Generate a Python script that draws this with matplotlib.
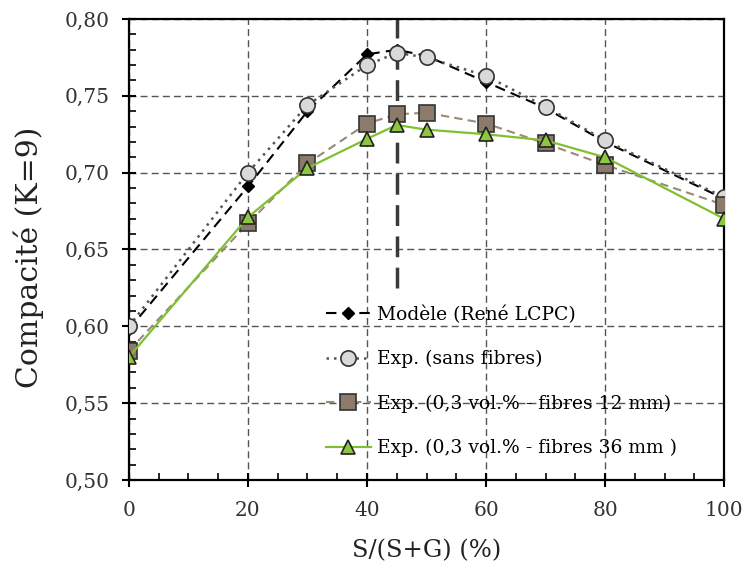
import matplotlib.pyplot as plt
from matplotlib.ticker import MultipleLocator, FuncFormatter

# S/(S+G) in %
x = [0, 20, 30, 40, 45, 50, 60, 70, 80, 100]

modele = [0.598, 0.691, 0.740, 0.777, 0.780, 0.776, 0.759, 0.742, 0.720, 0.683]
sans_fibres = [0.600, 0.700, 0.744, 0.770, 0.778, 0.775, 0.763, 0.743, 0.721, 0.684]
fibres_12 = [0.584, 0.667, 0.706, 0.732, 0.738, 0.739, 0.732, 0.719, 0.705, 0.679]
fibres_36 = [0.580, 0.671, 0.703, 0.722, 0.731, 0.728, 0.725, 0.721, 0.710, 0.670]

labels = ["Modèle (René LCPC)", "Exp. (sans fibres)",
          "Exp. (0,3 vol.% - fibres 12 mm)", "Exp. (0,3 vol.% - fibres 36 mm )"]

x_opt = 45
y_opt = [0.625, 0.80]

plt.rcParams["font.family"] = ["DejaVu Serif"]

fig = plt.figure(figsize=(7.45, 5.71), dpi=100)
ax = fig.add_axes([0.173, 0.1594, 0.799, 0.8073])

ax.plot(x, modele, color="black", ls=(0, (5, 3)), lw=1.5, marker="D",
        ms=6, mfc="black", mec="black", label=labels[0], zorder=3)
ax.plot(x, sans_fibres, color="#555555", ls=(0, (1, 2)), lw=1.8, marker="o",
        ms=11, mfc="#d9d9d9", mec="#333333", mew=1.2, label=labels[1], zorder=4)
ax.plot(x, fibres_12, color="#9a8878", ls=(0, (4, 2.5)), lw=1.5, marker="s",
        ms=11, mfc="#8c7b6b", mec="#333333", mew=1.2, label=labels[2], zorder=5)
ax.plot(x, fibres_36, color="#80c030", ls="-", lw=1.6, marker="^",
        ms=10, mfc="#8dc63f", mec="#222222", mew=1.2, label=labels[3], zorder=6)

ax.plot([x_opt, x_opt], y_opt, color="#3a3a3a", ls=(0, (6, 3)), lw=2.5, zorder=2)

ax.set_xlim(0, 100)
ax.set_ylim(0.50, 0.80)
ax.xaxis.set_major_locator(MultipleLocator(20))
ax.xaxis.set_minor_locator(MultipleLocator(5))
ax.yaxis.set_major_locator(MultipleLocator(0.05))
ax.yaxis.set_minor_locator(MultipleLocator(0.01))
ax.yaxis.set_major_formatter(FuncFormatter(lambda v, p: f"{v:.2f}".replace(".", ",")))

ax.tick_params(which="major", direction="inout", length=10, width=1.5,
               labelsize=14.5, colors="black")
ax.tick_params(which="minor", direction="in", length=5, width=1.2)
ax.tick_params(axis="x", which="major", pad=10)
ax.tick_params(axis="y", which="major", pad=9)
for tl in ax.get_xticklabels() + ax.get_yticklabels():
    tl.set_color("#333333")

for s in ax.spines.values():
    s.set_linewidth(1.6)

ax.grid(True, which="major", color="#555555", ls=(0, (5, 3)), lw=1.0)
ax.set_axisbelow(True)

ax.set_xlabel("S/(S+G) (%)", fontsize=17.5, labelpad=14, color="#222222")
ax.set_ylabel("Compacité (K=9)", fontsize=21.5, color="#222222")
# label right edge sits about 44 px from the figure's left side
ax.yaxis.set_label_coords(-(129 - 44) / 595, 0.483)

ax.legend(loc="upper left", bbox_to_anchor=(0.331, 0.379), frameon=False,
          fontsize=13.5, labelspacing=1.4, handlelength=2.4, handletextpad=0.35,
          borderpad=0, borderaxespad=0)

fig.savefig("out.png", dpi=100)
